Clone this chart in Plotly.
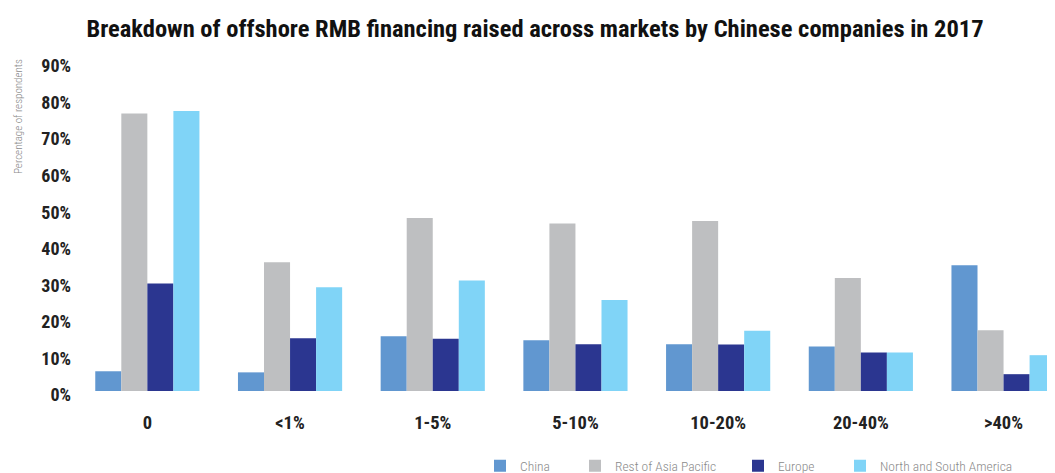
import plotly.graph_objects as go

categories = ["0", "<1%", "1-5%", "5-10%", "10-20%", "20-40%", ">40%"]
china = [5.4, 5.1, 15.0, 13.9, 12.8, 12.2, 34.4]
rest_apac = [75.9, 35.2, 47.3, 45.8, 46.5, 30.9, 16.6]
europe = [29.4, 14.4, 14.3, 12.8, 12.7, 10.5, 4.6]
americas = [76.6, 28.4, 30.2, 24.9, 16.5, 10.5, 9.8]

series_names = ["China", "Rest of Asia Pacific", "Europe", "North and South America"]
series_values = [china, rest_apac, europe, americas]
series_colors = ["#6197d0", "#bebfc1", "#2b3690", "#80d4f7"]

title_text = "Breakdown of offshore RMB financing raised across markets by Chinese companies in 2017"
y_title = "Percentage of respondents"
y_ticks = [0, 10, 20, 30, 40, 50, 60, 70, 80, 90]
y_ticklabels = [f"{v}%" for v in y_ticks]

NARROW = "Arial Narrow, Roboto Condensed, Liberation Sans Narrow, sans-serif"

# page body has an 8px default margin; work in figure coords = reference px - 8
OFF = 8
W, H = 1055 - OFF, 473 - OFF
ML = 76 - OFF
MT = 62 - OFF
MB = H - (391 - OFF)
MR = 0
PW = W - ML - MR
PH = H - MT - MB

legend_square_px = [494, 589, 752, 854]
legend_keys = ["legend", "legend2", "legend3", "legend4"]

fig = go.Figure()
for name, vals, col, lk in zip(series_names, series_values, series_colors, legend_keys):
    fig.add_trace(go.Bar(
        x=categories, y=vals, name=name,
        marker=dict(color=col, line=dict(width=0)),
        legend=lk,
        hoverinfo="x+y+name",
    ))

layout_legends = {}
for px, lk in zip(legend_square_px, legend_keys):
    layout_legends[lk] = dict(
        x=(px - 14 - OFF - ML) / PW, xanchor="left",
        y=(MT + PH - (466 - OFF)) / PH, yanchor="middle",
        orientation="h",
        bgcolor="rgba(0,0,0,0)", borderwidth=0,
        font=dict(family=NARROW, size=13.5, color="#8a8a8a", weight=300),
    )

fig.update_layout(
    width=W, height=H,
    margin=dict(l=ML, r=MR, t=MT, b=MB, autoexpand=False),
    paper_bgcolor="white", plot_bgcolor="white",
    barmode="group", bargap=0.27, bargroupgap=0,
    showlegend=True,
    title=dict(
        text=title_text, x=(535 - OFF) / W, xanchor="center", xref="container",
        y=1 - (28 - OFF) / H, yanchor="middle", yref="container",
        font=dict(family=NARROW, size=24.5, color="#111111", weight="bold"),
    ),
    xaxis=dict(
        range=[-0.5, -0.5 + PW / 142.7],
        showline=False, showgrid=False, zeroline=False, ticks="",
        ticklabelstandoff=18,
        tickfont=dict(family=NARROW, size=18.5, color="#222222", weight="bold"),
        fixedrange=True,
    ),
    yaxis=dict(
        range=[0, 90], tickmode="array", tickvals=y_ticks, ticktext=y_ticklabels,
        showline=False, showgrid=False, zeroline=False, ticks="",
        ticklabelstandoff=4, ticklabelshift=4,
        tickfont=dict(family=NARROW, size=18, color="#222222", weight="bold"),
        fixedrange=True,
    ),
    annotations=[dict(
        text=y_title, textangle=-90,
        xref="paper", yref="paper",
        x=(18 - OFF - ML) / PW, y=(MT + PH - (117 - OFF)) / PH,
        xanchor="center", yanchor="middle", showarrow=False,
        font=dict(family=NARROW, size=11, color="#8a8a8a", weight=300),
    )],
    **layout_legends,
)

fig.write_html("out.html")
